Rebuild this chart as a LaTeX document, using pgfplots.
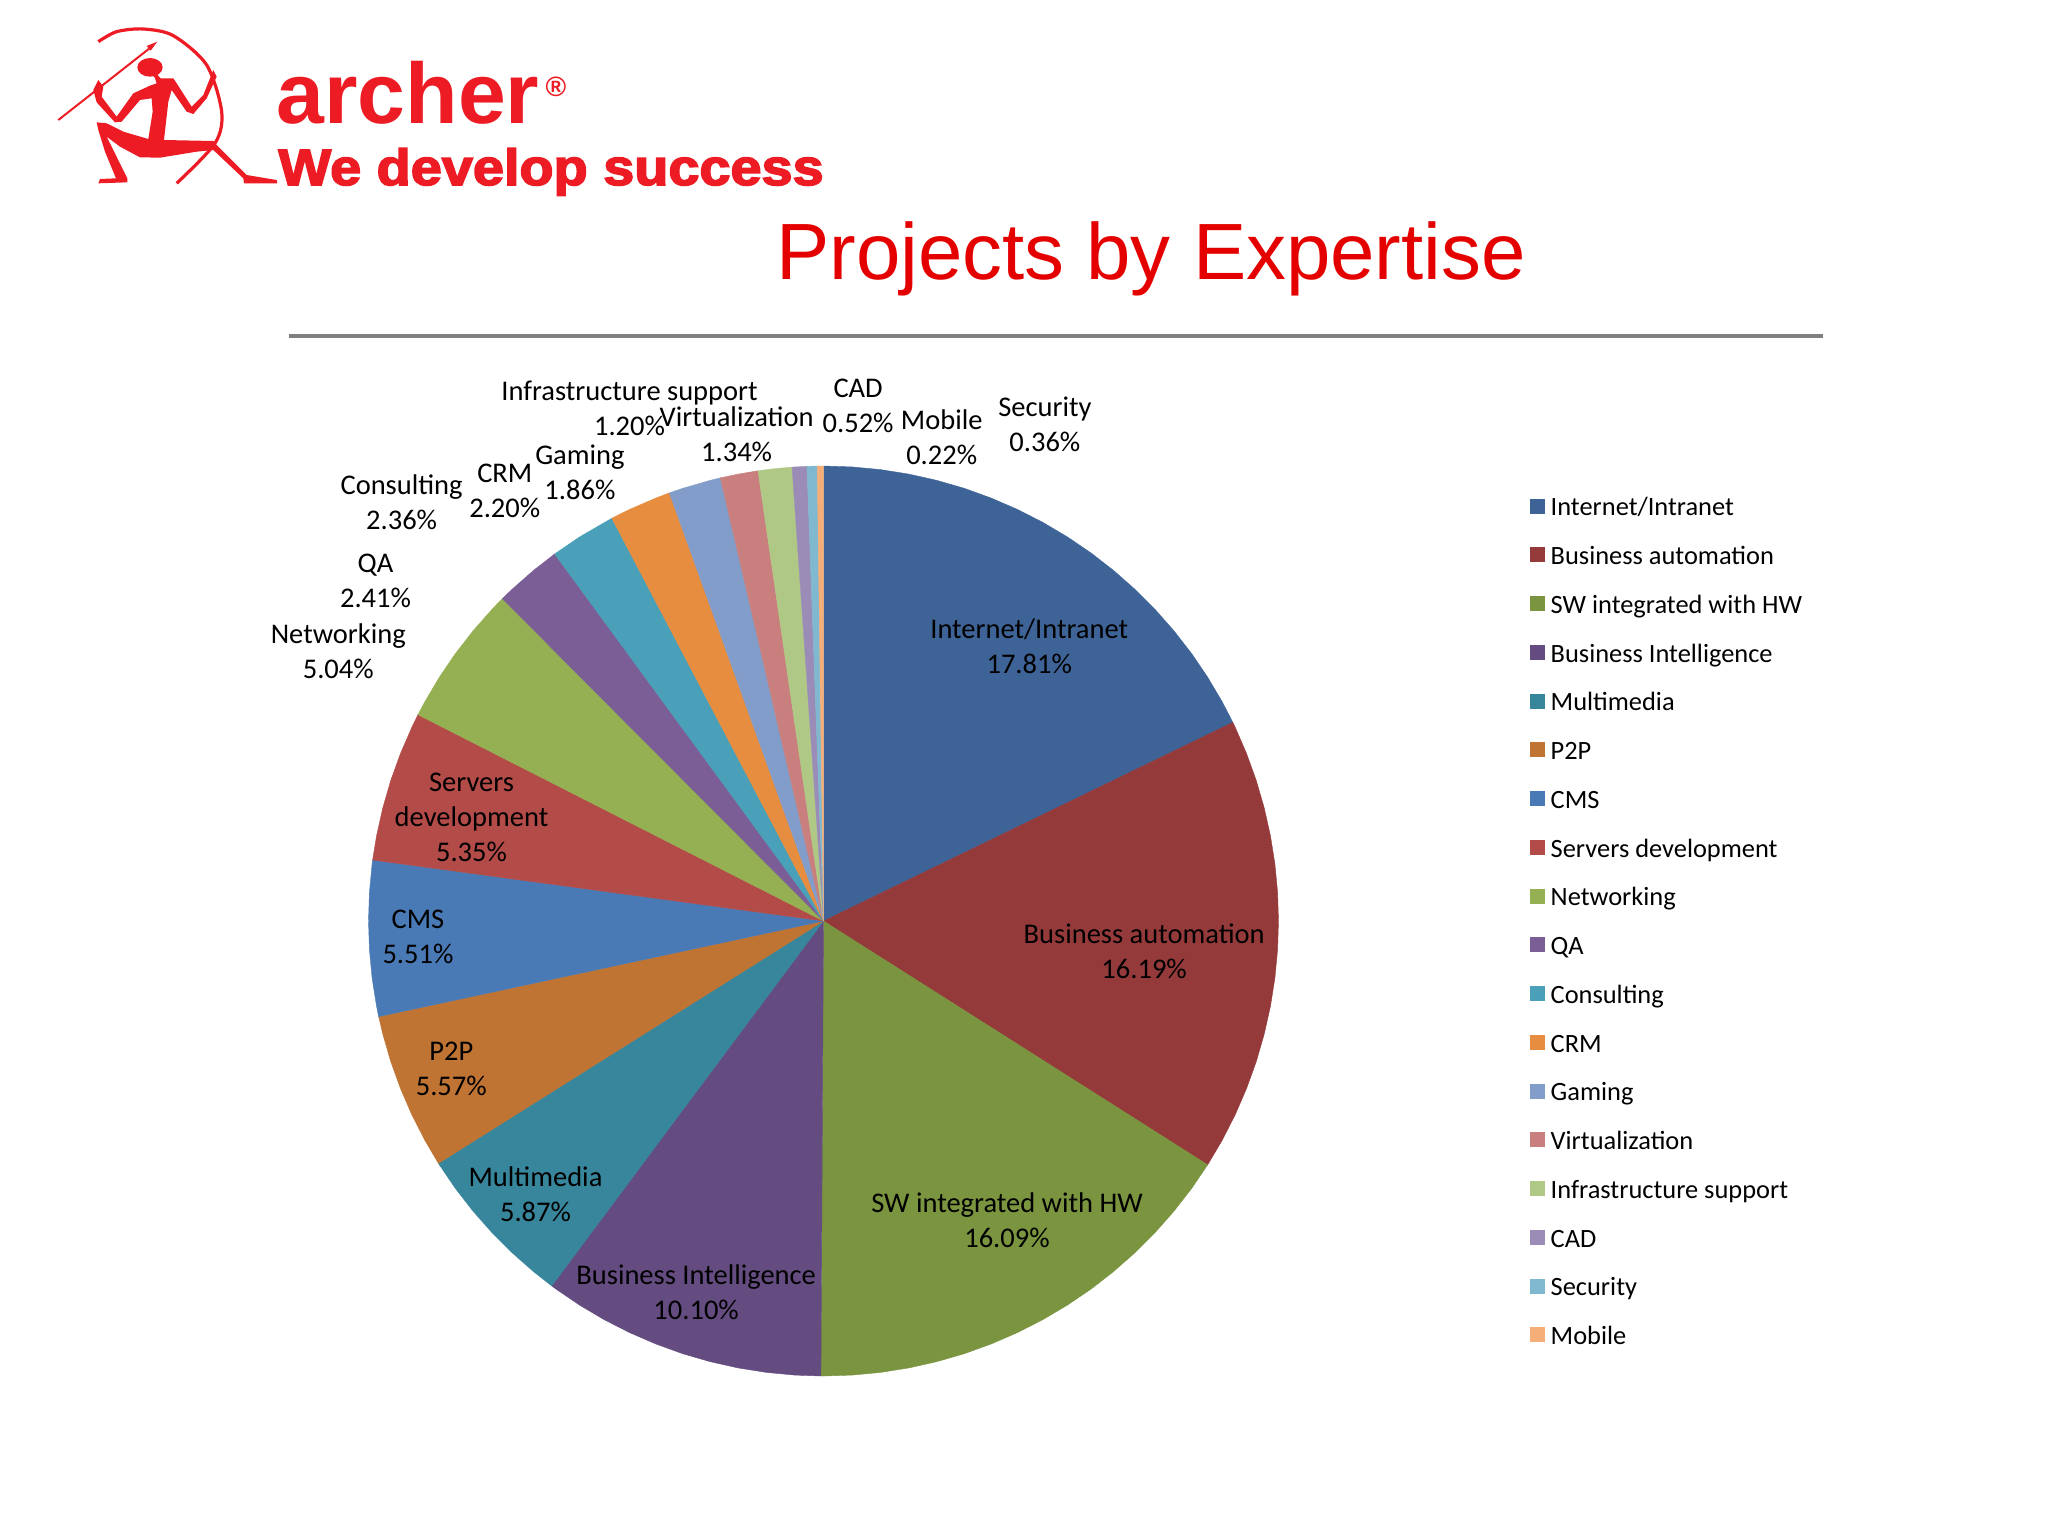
\documentclass[border=0pt]{standalone}
\usepackage{fontspec}
\setmainfont{Carlito}
\newfontfamily\arial{Liberation Sans}
\newfontface\heavy[FakeBold=3]{Liberation Sans Bold}
\usepackage{pgfplots}
\usepgfplotslibrary{polar}
\pgfplotsset{compat=1.18}
\definecolor{c1}{HTML}{3E6497}
\definecolor{c2}{HTML}{953A3B}
\definecolor{c3}{HTML}{7A9440}
\definecolor{c4}{HTML}{644C80}
\definecolor{c5}{HTML}{38869C}
\definecolor{c6}{HTML}{C07433}
\definecolor{c7}{HTML}{4A7AB5}
\definecolor{c8}{HTML}{B34B48}
\definecolor{c9}{HTML}{95B052}
\definecolor{c10}{HTML}{7B5E96}
\definecolor{c11}{HTML}{4AA0B8}
\definecolor{c12}{HTML}{E68D3F}
\definecolor{c13}{HTML}{829DC9}
\definecolor{c14}{HTML}{C97F7D}
\definecolor{c15}{HTML}{B0C886}
\definecolor{c16}{HTML}{9A8CB6}
\definecolor{c17}{HTML}{7FB8CF}
\definecolor{c18}{HTML}{F5AE78}
\definecolor{logored}{HTML}{ED1C24}
\newcommand\lab[3]{\node[font=\fontsize{14.25}{17.5}\selectfont,align=center,text=black,inner sep=0pt] at ({#1*1.3061},{(#2+0.6)*1.3061}) {#3};}
\begin{document}
\begin{tikzpicture}[x=0.5pt,y=-0.5pt]
\path[use as bounding box] (0,0) rectangle (2048,1536);
\coordinate (pc) at (823.5,921);
\begin{polaraxis}[
  at={(pc)},anchor=center,
  scale only axis,width=455pt,height=455pt,
  xmin=90,xmax=450,ymin=0,ymax=1,
  hide axis,clip=false,
  table/row sep=\\,
  table/x expr={450-3.6*\thisrow{p}},
  table/y=r,
  legend style={draw=none,fill=none,at={(1.269,0.970)},anchor=north west,
    font=\fontsize{13.2}{14}\selectfont,
    nodes={text height=9pt,text depth=3pt,inner ysep=0pt,inner xsep=0pt},
    row sep=12.38pt,column sep=3.3pt,legend cell align=left},
  legend image code/.code={\fill[#1] (0pt,-1.5pt) rectangle (7pt,5.5pt);},
]
\addplot[fill=c1,draw=c1,line width=0.2pt] table {p r\\ 0 0\\ 0 1\\ 1 1\\ 2 1\\ 3 1\\ 4 1\\ 5 1\\ 6 1\\ 7 1\\ 8 1\\ 9 1\\ 10 1\\ 11 1\\ 12 1\\ 13 1\\ 14 1\\ 15 1\\ 16 1\\ 17 1\\ 17.81 1\\ 17.81 0\\};
\addlegendentry{Internet/Intranet}
\addplot[fill=c2,draw=c2,line width=0.2pt] table {p r\\ 17.81 0\\ 17.81 1\\ 18 1\\ 19 1\\ 20 1\\ 21 1\\ 22 1\\ 23 1\\ 24 1\\ 25 1\\ 26 1\\ 27 1\\ 28 1\\ 29 1\\ 30 1\\ 31 1\\ 32 1\\ 33 1\\ 34 1\\ 34 0\\};
\addlegendentry{Business automation}
\addplot[fill=c3,draw=c3,line width=0.2pt] table {p r\\ 34 0\\ 34 1\\ 35 1\\ 36 1\\ 37 1\\ 38 1\\ 39 1\\ 40 1\\ 41 1\\ 42 1\\ 43 1\\ 44 1\\ 45 1\\ 46 1\\ 47 1\\ 48 1\\ 49 1\\ 50 1\\ 50.09 1\\ 50.09 0\\};
\addlegendentry{SW integrated with HW}
\addplot[fill=c4,draw=c4,line width=0.2pt] table {p r\\ 50.09 0\\ 50.09 1\\ 51 1\\ 52 1\\ 53 1\\ 54 1\\ 55 1\\ 56 1\\ 57 1\\ 58 1\\ 59 1\\ 60 1\\ 60.19 1\\ 60.19 0\\};
\addlegendentry{Business Intelligence}
\addplot[fill=c5,draw=c5,line width=0.2pt] table {p r\\ 60.19 0\\ 60.19 1\\ 61 1\\ 62 1\\ 63 1\\ 64 1\\ 65 1\\ 66 1\\ 66.06 1\\ 66.06 0\\};
\addlegendentry{Multimedia}
\addplot[fill=c6,draw=c6,line width=0.2pt] table {p r\\ 66.06 0\\ 66.06 1\\ 67 1\\ 68 1\\ 69 1\\ 70 1\\ 71 1\\ 71.63 1\\ 71.63 0\\};
\addlegendentry{P2P}
\addplot[fill=c7,draw=c7,line width=0.2pt] table {p r\\ 71.63 0\\ 71.63 1\\ 72 1\\ 73 1\\ 74 1\\ 75 1\\ 76 1\\ 77 1\\ 77.14 1\\ 77.14 0\\};
\addlegendentry{CMS}
\addplot[fill=c8,draw=c8,line width=0.2pt] table {p r\\ 77.14 0\\ 77.14 1\\ 78 1\\ 79 1\\ 80 1\\ 81 1\\ 82 1\\ 82.49 1\\ 82.49 0\\};
\addlegendentry{Servers development}
\addplot[fill=c9,draw=c9,line width=0.2pt] table {p r\\ 82.49 0\\ 82.49 1\\ 83 1\\ 84 1\\ 85 1\\ 86 1\\ 87 1\\ 87.53 1\\ 87.53 0\\};
\addlegendentry{Networking}
\addplot[fill=c10,draw=c10,line width=0.2pt] table {p r\\ 87.53 0\\ 87.53 1\\ 88 1\\ 89 1\\ 89.94 1\\ 89.94 0\\};
\addlegendentry{QA}
\addplot[fill=c11,draw=c11,line width=0.2pt] table {p r\\ 89.94 0\\ 89.94 1\\ 91 1\\ 92.30 1\\ 92.30 0\\};
\addlegendentry{Consulting}
\addplot[fill=c12,draw=c12,line width=0.2pt] table {p r\\ 92.30 0\\ 92.30 1\\ 93 1\\ 94 1\\ 94.50 1\\ 94.50 0\\};
\addlegendentry{CRM}
\addplot[fill=c13,draw=c13,line width=0.2pt] table {p r\\ 94.50 0\\ 94.50 1\\ 95 1\\ 96 1\\ 96.36 1\\ 96.36 0\\};
\addlegendentry{Gaming}
\addplot[fill=c14,draw=c14,line width=0.2pt] table {p r\\ 96.36 0\\ 96.36 1\\ 97 1\\ 97.70 1\\ 97.70 0\\};
\addlegendentry{Virtualization}
\addplot[fill=c15,draw=c15,line width=0.2pt] table {p r\\ 97.70 0\\ 97.70 1\\ 98.3 1\\ 98.90 1\\ 98.90 0\\};
\addlegendentry{Infrastructure support}
\addplot[fill=c16,draw=c16,line width=0.2pt] table {p r\\ 98.90 0\\ 98.90 1\\ 99.42 1\\ 99.42 0\\};
\addlegendentry{CAD}
\addplot[fill=c17,draw=c17,line width=0.2pt] table {p r\\ 99.42 0\\ 99.42 1\\ 99.78 1\\ 99.78 0\\};
\addlegendentry{Security}
\addplot[fill=c18,draw=c18,line width=0.2pt] table {p r\\ 99.78 0\\ 99.78 1\\ 100 1\\ 100 0\\};
\addlegendentry{Mobile}
\end{polaraxis}
\lab{788}{494}{Internet/Intranet\\17.81\%}
\lab{876}{728}{Business automation\\16.19\%}
\lab{771}{934}{SW integrated with HW\\16.09\%}
\lab{533}{989}{Business Intelligence\\10.10\%}
\lab{410}{914}{Multimedia\\5.87\%}
\lab{345.5}{818}{P2P\\5.57\%}
\lab{320}{717}{CMS\\5.51\%}
\lab{361}{625}{Servers\\development\\5.35\%}
\lab{259}{498}{Networking\\5.04\%}
\lab{287.5}{444}{QA\\2.41\%}
\lab{307.5}{384}{Consulting\\2.36\%}
\lab{386.5}{375}{CRM\\2.20\%}
\lab{444}{361}{Gaming\\1.86\%}
\lab{564}{332}{Virtualization\\1.34\%}
\lab{482}{312}{Infrastructure support\\1.20\%}
\lab{657}{310}{CAD\\0.52\%}
\lab{721}{334}{Mobile\\0.22\%}
\lab{800}{324}{Security\\0.36\%}
% title and rule
\node[font=\arial\fontsize{39.9}{42}\selectfont,text=red!90!black,anchor=base,inner sep=0pt] at (1151,279) {Projects by Expertise};
\draw[black!50,line width=1.6pt] (289,336) -- (1823,336);
% logo
\node[font=\arial\bfseries\fontsize{43}{45}\selectfont,text=logored,anchor=base west,inner sep=0pt] at (276,123) {archer};
\node[font=\arial\bfseries\fontsize{14}{15}\selectfont,text=logored,inner sep=0pt] at (556,87) {\textregistered};
\node[font=\heavy\fontsize{25.5}{27}\selectfont,text=logored,anchor=base west,inner sep=0pt,xscale=1.095] at (278,185) {We develop success};
\begin{scope}[shift={(40,15)},scale=1/3]
\fill[logored] (345,190) -- (400,190) -- (410,205) -- (455,275) -- (490,240) -- (520,165) -- (530,185) -- (500,250) -- (460,297) -- (440,290) -- (395,225) -- (385,260) -- (372,375) -- (520,378) -- (530,390) -- (620,480) -- (710,495) -- (712,505) -- (612,505) -- (610,490) -- (520,405) -- (470,410) -- (360,428) -- (300,427) -- (240,395) -- (200,365) -- (262,490) -- (262,502) -- (175,505) -- (180,492) -- (228,490) -- (195,410) -- (175,345) -- (170,322) -- (200,325) -- (250,350) -- (325,372) -- (338,290) -- (335,250) -- (300,255) -- (245,320) -- (225,322) -- (170,262) -- (160,225) -- (175,195) -- (190,215) -- (185,245) -- (230,305) -- (280,235) -- (330,212) -- (350,205) -- cycle;
\fill[logored] (330,157) ellipse [x radius=38,y radius=28];
\draw[logored,line width=2pt] (345,180) -- (358,195);
\draw[logored,line width=1pt] (55,315) -- (335,95);
\fill[logored] (352,80) -- (320,93) -- (332,107) -- cycle;
\draw[logored,line width=1.6pt] plot[smooth] coordinates {(175,80) (230,50) (310,42) (400,62) (500,150) (545,290) (525,385) (410,505)};
\end{scope}
\end{tikzpicture}
\end{document}
